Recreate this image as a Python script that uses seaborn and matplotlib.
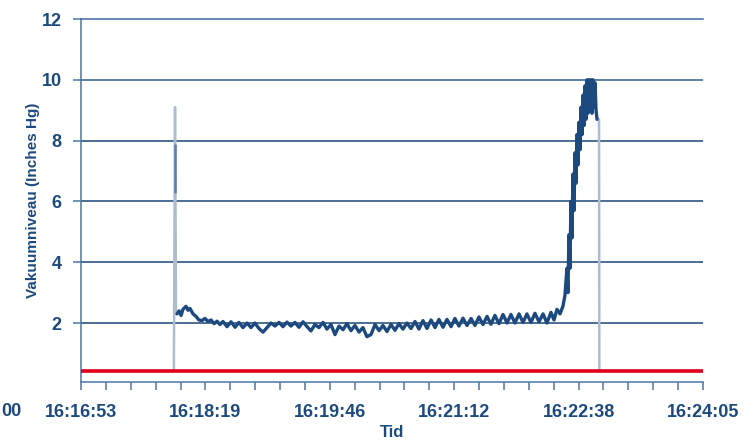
import numpy as np
import pandas as pd
import matplotlib
matplotlib.use("Agg")
import matplotlib.pyplot as plt
import seaborn as sns

# tid i sekunder fra 16:16:53
tick_labels = ["16:16:53", "16:18:19", "16:19:46", "16:21:12", "16:22:38", "16:24:05"]
tick_secs = [0, 86.4, 172.8, 259.2, 345.6, 432]

# vakuumniveau (hovedsignal)
main_t = [66.7, 68.1, 69.5, 70.8, 72.9, 74.3, 75.7, 77.8, 79.9, 81.9, 84.0, 86.1,
          88.2, 90.3, 92.4, 94.5, 96.5, 98.6, 101.4, 104.2, 107.0, 109.7, 112.5,
          115.3, 118.1, 120.8, 123.6, 126.4, 129.2, 132.0, 134.7, 137.5, 140.3,
          143.1, 145.8, 148.6, 151.4, 154.2, 157.0, 159.7, 162.5, 165.3, 168.1,
          170.8, 173.6, 176.4, 179.2, 182.0, 184.7, 187.5, 190.3, 193.1, 195.8,
          198.6, 201.4, 204.2, 207.0, 209.7, 212.5, 215.3, 218.1, 220.8, 223.6,
          226.4, 229.2, 232.0, 234.7, 237.5, 240.3, 243.1, 245.9, 248.6, 251.4,
          254.2, 257.0, 259.7, 262.5, 265.3, 268.1, 270.9, 273.6, 276.4, 279.2,
          282.0, 284.7, 287.5, 290.3, 293.1, 295.9, 298.6, 301.4, 304.2, 307.0,
          309.7, 312.5, 315.3, 318.1, 320.9, 323.6, 326.4, 328.5, 330.6, 332.7,
          334.7, 336.1, 337.5, 338.2, 338.9, 339.6, 340.3, 341.0, 341.7, 342.4,
          343.1, 343.8, 344.5, 345.2, 345.9, 346.6, 347.3, 348.0, 348.7, 349.4,
          350.0, 350.7, 351.4, 352.1, 352.8, 353.5, 354.2, 354.9, 355.6, 356.3,
          357.0, 357.7, 358.4]
main_v = [2.30, 2.40, 2.25, 2.45, 2.55, 2.42, 2.48, 2.30, 2.22, 2.10, 2.08, 2.15,
          2.05, 2.10, 1.98, 2.06, 1.95, 2.05, 1.88, 2.04, 1.86, 2.02, 1.85,
          2.00, 1.85, 2.00, 1.82, 1.70, 1.85, 2.00, 1.90, 2.02, 1.88,
          2.03, 1.90, 2.02, 1.86, 2.04, 1.88, 1.74, 1.95, 1.85, 2.02,
          1.80, 1.95, 1.62, 1.90, 1.78, 1.98, 1.75, 1.92, 1.70, 1.85,
          1.55, 1.62, 1.95, 1.75, 1.92, 1.72, 1.95, 1.76, 1.98, 1.80,
          2.00, 1.82, 2.05, 1.80, 2.08, 1.82, 2.10, 1.85, 2.12, 1.86,
          2.12, 1.88, 2.15, 1.90, 2.16, 1.92, 2.15, 1.92, 2.20, 1.95,
          2.22, 1.96, 2.25, 1.98, 2.28, 2.00, 2.28, 2.00, 2.30, 2.02,
          2.30, 2.02, 2.32, 2.04, 2.30, 2.00, 2.35, 2.10, 2.45, 2.30,
          2.55, 2.90, 3.80, 3.00, 4.90, 3.80, 6.00, 4.80, 6.90, 5.70,
          7.60, 6.60, 8.20, 7.20, 8.60, 7.70, 9.10, 8.20, 9.50, 8.50,
          9.80, 8.70, 10.0, 8.90, 10.0, 9.00, 10.0, 8.90, 10.0, 9.10,
          9.90, 9.00, 8.70]

# lyse spidser (start og slut)
spike_t = [0, 64.5, 65.3, 66.0, 66.7]
spike_v = [0.42, 0.42, 9.1, 2.3, 2.3]
drop_t = [358.4, 359.8, 360.0, 432]
drop_v = [8.7, 8.7, 0.42, 0.42]
spike_dark_t = [65.3, 65.3]
spike_dark_v = [6.3, 7.85]

red_level = 0.42

navy = "#1d4a7e"
steel = "#4a77a3"

sns.set_theme(style="white")
plt.rcParams['font.family'] = ['Liberation Sans', 'DejaVu Sans']

fig = plt.figure(figsize=(7.53, 4.41), dpi=100)
ax = fig.add_axes([81 / 753, 1 - 382 / 441, 622 / 753, 363 / 441])

sns.lineplot(x=spike_t, y=spike_v, ax=ax, color="#aebcd0", lw=1.8,
             estimator=None, sort=False)
sns.lineplot(x=drop_t, y=drop_v, ax=ax, color="#aebcd0", lw=1.8,
             estimator=None, sort=False)
sns.lineplot(x=spike_dark_t, y=spike_dark_v, ax=ax, color="#5d7ea6", lw=1.8,
             estimator=None, sort=False)
sns.lineplot(x=main_t, y=main_v, ax=ax, color=navy, lw=2.4,
             estimator=None, sort=False)

ax.axhline(red_level, color="#e1001a", lw=2.6, zorder=5)

ax.set_xlim(0, 432)
ax.set_ylim(0.06, 12)
ax.set_yticks([2, 4, 6, 8, 10, 12])
ax.set_yticklabels(["2", "4", "6", "8", "10", "12"])
ax.set_xticks(tick_secs)
ax.set_xticklabels(tick_labels)
ax.set_xticks(np.linspace(0, 432, 26), minor=True)

for y in [2, 4, 6, 8]:
    ax.axhline(y, color="#1b4577", lw=1.1, zorder=1)
ax.axhline(10, color="#2f5f93", lw=1.1, zorder=1)

ax.spines["right"].set_visible(False)
ax.spines["top"].set_color("#3d6c9c")
ax.spines["left"].set_color(steel)
ax.spines["bottom"].set_color(steel)
for s in ["top", "left", "bottom"]:
    ax.spines[s].set_linewidth(1.1)

ax.tick_params(axis="both", which="both", direction="out", color=steel,
               length=6, width=1.1, labelcolor=navy, labelsize=13)
ax.tick_params(axis="y", pad=8, left=True)
ax.tick_params(axis="x", which="both", pad=10, bottom=True)
for lab in ax.get_xticklabels() + ax.get_yticklabels():
    lab.set_fontweight("bold")

ax.set_ylabel("Vakuumniveau (Inches Hg)", fontsize=11, fontweight="bold",
              color=navy, labelpad=1)
ax.set_xlabel("Tid", fontsize=12, fontweight="bold", color=navy, labelpad=3)

fig.text(0.002, 1 - 412 / 441, "00", fontsize=13, fontweight="bold",
         color=navy, ha="left", va="center")

fig.savefig("out.png", dpi=100)
